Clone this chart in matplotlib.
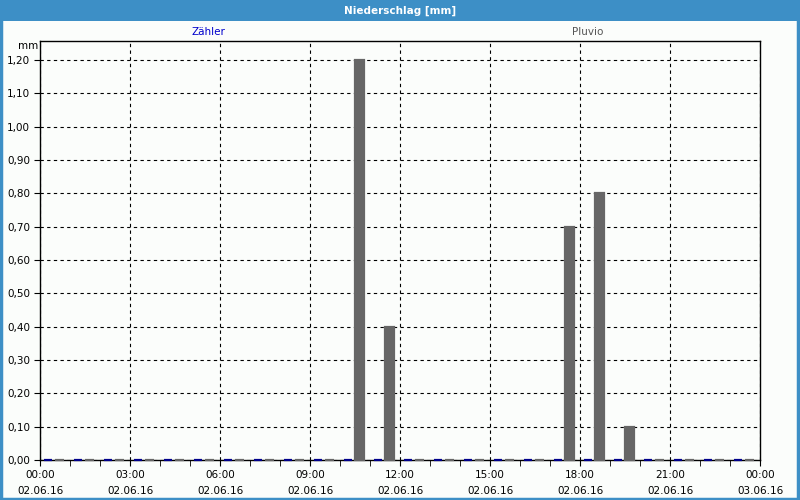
import numpy as np
from matplotlib import pyplot as plt
from matplotlib.patches import Rectangle
from matplotlib.ticker import MultipleLocator, FuncFormatter

# hourly precipitation 02.06.16
hours = np.arange(24)
zaehler = [0.0] * 24
pluvio = [0, 0, 0, 0, 0, 0, 0, 0, 0, 0, 1.20, 0.40,
          0, 0, 0, 0, 0, 0.70, 0.80, 0.10, 0, 0, 0, 0]
tick_hours = np.arange(0, 25, 3)
tick_labels = ['00:00\n02.06.16', '03:00\n02.06.16', '06:00\n02.06.16',
               '09:00\n02.06.16', '12:00\n02.06.16', '15:00\n02.06.16',
               '18:00\n02.06.16', '21:00\n02.06.16', '00:00\n03.06.16']

bg = '#fbfdfb'
frame = '#3d8fc6'
fig = plt.figure(figsize=(8, 5), dpi=100, facecolor=bg)
plt.rc('font', size=7.5)

# title bar and border
fig.patches.append(Rectangle((0, 1 - 20.5/500), 1, 20.5/500, transform=fig.transFigure,
                             facecolor=frame, edgecolor='none', zorder=0))
fig.patches.append(Rectangle((0.001, 0.002), 0.997, 0.996, transform=fig.transFigure,
                             facecolor='none', edgecolor=frame, linewidth=2.5, zorder=0))
fig.text(0.5, 1 - 10.5/500, 'Niederschlag [mm]', color='white', fontweight='bold',
         fontsize=7.5, ha='center', va='center')

ax = fig.add_axes([40/800, 40/500, 720/800, 419.3/500])
ax.set_facecolor(bg)
# edge width adds ~1px per side, so bars are drawn a little narrower
b1 = ax.bar(hours + 0.135, zaehler, width=0.25, align='edge', color='#00008b',
            edgecolor='#00008b', linewidth=1.6, zorder=4)
b2 = ax.bar(hours + 0.505, pluvio, width=0.29, align='edge', color='#666666',
            edgecolor='#666666', linewidth=1.6, zorder=4)
for p in list(b1) + list(b2):
    p.set_clip_on(False)

ax.set_xlim(0, 24)
ax.set_ylim(0, 1.258)
ax.set_xticks(tick_hours)
ax.set_xticklabels(tick_labels, linespacing=1.75)
ax.xaxis.set_minor_locator(MultipleLocator(1))
ax.yaxis.set_major_locator(MultipleLocator(0.1))
ax.yaxis.set_major_formatter(FuncFormatter(lambda v, p: ('%.2f' % v).replace('.', ',')))
ax.tick_params(axis='both', which='major', length=4, color='black', pad=3)
ax.tick_params(axis='x', which='minor', length=4, color='black')
ax.grid(True, color='black', linestyle=(0, (3, 3)), linewidth=0.8, zorder=1)
for s in ax.spines.values():
    s.set_linewidth(1.0)
ax.set_axisbelow(True)

fig.text(28/800, 1 - 46/500, 'mm', ha='center', va='center')
fig.text(208/800, 1 - 32/500, 'Zähler', color='#0000cc', ha='center', va='center')
fig.text(588/800, 1 - 32/500, 'Pluvio', color='#555555', ha='center', va='center')

fig.savefig('out.png', dpi=100, facecolor=bg)
